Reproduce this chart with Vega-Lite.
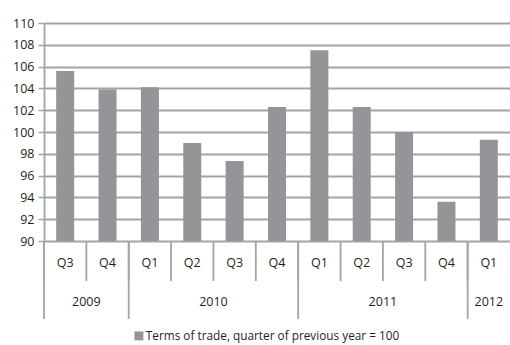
{
  "$schema": "https://vega.github.io/schema/vega-lite/v6.json",
  "padding": {"left": 12, "top": 17, "right": 0, "bottom": 0},
  "bounds": "flush",
  "config": {
    "view": {"stroke": null},
    "font": "Open Sans",
    "text": {"font": "Open Sans", "color": "#231f20"},
    "axis": {"labelFont": "Open Sans", "labelColor": "#231f20"},
    "legend": {"labelFont": "Open Sans", "labelColor": "#231f20"}
  },
  "data": {
    "values": [
      {"key": "2009 Q3", "year": "2009", "quarter": "Q3", "value": 105.6},
      {"key": "2009 Q4", "year": "2009", "quarter": "Q4", "value": 103.9},
      {"key": "2010 Q1", "year": "2010", "quarter": "Q1", "value": 104.1},
      {"key": "2010 Q2", "year": "2010", "quarter": "Q2", "value": 99.0},
      {"key": "2010 Q3", "year": "2010", "quarter": "Q3", "value": 97.35},
      {"key": "2010 Q4", "year": "2010", "quarter": "Q4", "value": 102.3},
      {"key": "2011 Q1", "year": "2011", "quarter": "Q1", "value": 107.5},
      {"key": "2011 Q2", "year": "2011", "quarter": "Q2", "value": 102.3},
      {"key": "2011 Q3", "year": "2011", "quarter": "Q3", "value": 100.0},
      {"key": "2011 Q4", "year": "2011", "quarter": "Q4", "value": 93.6},
      {"key": "2012 Q1", "year": "2012", "quarter": "Q1", "value": 99.3}
    ]
  },
  "spacing": 0,
  "resolve": {"scale": {"x": "shared"}},
  "vconcat": [
    {
      "width": 466,
      "height": 218,
      "mark": {"type": "bar", "width": 18},
      "encoding": {
        "x": {"field": "key", "type": "nominal", "sort": null, "axis": null,
              "scale": {"type": "band", "paddingInner": 0, "paddingOuter": 0}},
        "y": {"field": "value", "type": "quantitative",
              "scale": {"domain": [90, 110], "zero": false, "nice": false},
              "axis": {"title": null, "values": [90, 92, 94, 96, 98, 100, 102, 104, 106, 108, 110],
                       "grid": true, "gridColor": "#a3a4a6", "gridWidth": 1.8,
                       "domainColor": "#a3a4a6", "domainWidth": 1.8,
                       "tickColor": "#a3a4a6", "tickWidth": 1.5, "tickSize": 6,
                       "labelFontSize": 12.5, "labelPadding": 4}},
        "y2": {"datum": 90},
        "color": {"datum": "Terms of trade, quarter of previous year = 100", "type": "nominal",
                  "scale": {"range": ["#939598"]},
                  "legend": {"orient": "none", "legendX": 89, "legendY": 307, "direction": "horizontal",
                             "title": null, "symbolType": "square", "labelLimit": 500,
                             "symbolSize": 80, "labelFontSize": 11.8, "symbolStrokeWidth": 0,
                             "labelOffset": 1, "padding": 0}}
      }
    },
    {
      "width": 466,
      "height": 78,
      "layer": [
        {
          "mark": {"type": "rule", "color": "#a3a4a6", "strokeWidth": 1.8},
          "encoding": {
            "x": {"field": "key", "type": "nominal", "sort": null, "bandPosition": 0,
                  "scale": {"type": "band", "paddingInner": 0, "paddingOuter": 0}, "axis": null},
            "y": {"datum": 0, "type": "quantitative", "scale": {"domain": [0, 4], "reverse": true, "nice": false, "zero": false}, "axis": null},
            "y2": {"datum": 2.05}
          }
        },
        {
          "transform": [{"filter": "datum.quarter == 'Q1' || datum.key == '2009 Q3'"}],
          "mark": {"type": "rule", "color": "#a3a4a6", "strokeWidth": 1.8},
          "encoding": {
            "x": {"field": "key", "type": "nominal", "sort": null, "bandPosition": 0,
                  "scale": {"type": "band", "paddingInner": 0, "paddingOuter": 0}, "axis": null},
            "y": {"datum": 0, "type": "quantitative", "axis": null},
            "y2": {"datum": 4}
          }
        },
        {
          "mark": {"type": "text", "fontSize": 12.5, "baseline": "middle"},
          "encoding": {
            "x": {"field": "key", "type": "nominal", "sort": null, "bandPosition": 0.5,
                  "scale": {"type": "band", "paddingInner": 0, "paddingOuter": 0}, "axis": null},
            "y": {"datum": 1.13, "type": "quantitative", "axis": null},
            "text": {"field": "quarter"}
          }
        },
        {
          "transform": [{"filter": "datum.key == '2009 Q4' || datum.key == '2010 Q3' || datum.key == '2011 Q3'"}],
          "mark": {"type": "text", "fontSize": 12.5, "baseline": "middle"},
          "encoding": {
            "x": {"field": "key", "type": "nominal", "sort": null, "bandPosition": 0,
                  "scale": {"type": "band", "paddingInner": 0, "paddingOuter": 0}, "axis": null},
            "y": {"datum": 3.13, "type": "quantitative", "axis": null},
            "text": {"field": "year"}
          }
        },
        {
          "transform": [{"filter": "datum.key == '2012 Q1'"}],
          "mark": {"type": "text", "fontSize": 12.5, "baseline": "middle"},
          "encoding": {
            "x": {"field": "key", "type": "nominal", "sort": null, "bandPosition": 0.5,
                  "scale": {"type": "band", "paddingInner": 0, "paddingOuter": 0}, "axis": null},
            "y": {"datum": 3.13, "type": "quantitative", "axis": null},
            "text": {"field": "year"}
          }
        }
      ]
    }
  ]
}
